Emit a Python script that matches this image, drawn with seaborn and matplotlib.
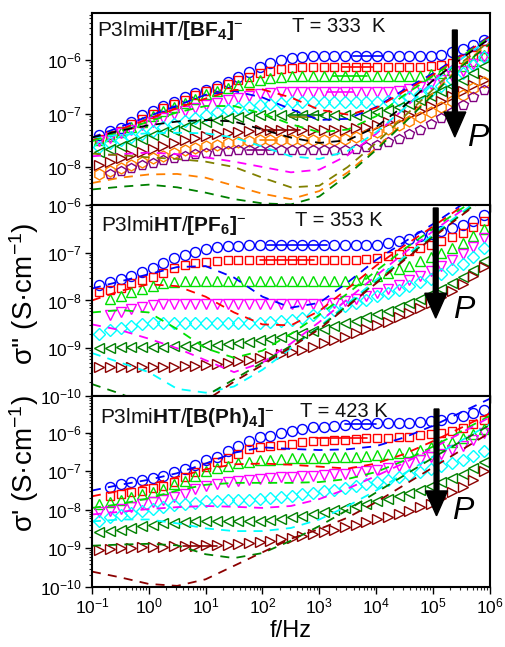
import numpy as np
import pandas as pd
import matplotlib
matplotlib.use("Agg")
import matplotlib.pyplot as plt
import seaborn as sns
from matplotlib.ticker import FixedLocator, FuncFormatter, NullFormatter, LogLocator

# ---------------- data (log10 values) ----------------
# measurement frequencies (log10 f / Hz) of the marker series
log_f = np.round(-0.87 + 0.188 * np.arange(37), 3)
# frequencies (log10) of the dashed sigma'' curves
log_f_dash = [-1, -0.5, 0, 0.5, 1, 1.5, 2, 2.5, 3, 3.5, 4, 4.5, 5, 5.5, 6]

nan = np.nan
# ---- panel 1 : P3lmiHT/[BF4]-, T = 333 K ----
bf4_circle = [-7.40,-7.33,-7.27,-7.15,-7.02,-6.95,-6.86,-6.78,-6.70,-6.62,-6.56,-6.49,-6.41,-6.31,-6.22,-6.13,-6.06,-6.00,-5.96,-5.94,
              -5.93,-5.93,-5.93,-5.93,-5.93,-5.93,-5.93,-5.93,-5.93,-5.93,-5.93,-5.92,-5.90,-5.85,-5.79,-5.72,-5.62]
bf4_square = [-7.48,-7.40,-7.32,-7.20,-7.10,-7.00,-6.90,-6.82,-6.74,-6.66,-6.58,-6.52,-6.45,-6.38,-6.31,-6.25,-6.20,-6.17,-6.15,-6.14,
              -6.13,-6.13,-6.13,-6.13,-6.13,-6.13,-6.13,-6.13,-6.13,-6.13,-6.13,-6.12,-6.10,-6.05,-5.98,-5.90,-5.80]
bf4_up = [-7.50,-7.42,-7.35,-7.25,-7.15,-7.05,-6.96,-6.88,-6.80,-6.72,-6.64,-6.58,-6.52,-6.46,-6.41,-6.37,-6.34,-6.32,
          -6.30,-6.30,-6.30,-6.30,-6.30,-6.30,-6.30,-6.30,-6.30,-6.30,-6.30,-6.30,-6.29,-6.27,-6.24,-6.19,-6.11,-6.01,-5.90]
bf4_down = [-7.52,-7.45,-7.36,-7.30,-7.22,-7.15,-7.08,-7.01,-6.95,-6.90,-6.85,-6.80,-6.75,-6.71,-6.67,-6.64,-6.62,-6.60,
            -6.59,-6.59,-6.59,-6.59,-6.59,-6.59,-6.59,-6.59,-6.59,-6.59,-6.57,-6.54,-6.50,-6.45,-6.38,-6.30,-6.20,-6.08,-5.95]
bf4_diamond = [-7.62,-7.56,-7.50,-7.44,-7.38,-7.32,-7.26,-7.20,-7.14,-7.08,-7.02,-6.98,-6.94,-6.90,-6.87,-6.84,-6.82,-6.80,
               -6.79,-6.79,-6.79,-6.79,-6.79,-6.79,-6.79,-6.79,-6.79,-6.77,-6.74,-6.70,-6.64,-6.57,-6.48,-6.37,-6.24,-6.10,-5.95]
bf4_left = [-7.72,-7.66,-7.60,-7.53,-7.47,-7.41,-7.35,-7.30,-7.25,-7.20,-7.16,-7.12,-7.09,-7.06,-7.04,-7.03,
            -7.02,-7.02,-7.02,-7.02,-7.02,-7.02,-7.02,-7.02,-7.02,-7.00,-6.97,-6.93,-6.88,-6.82,-6.75,-6.67,-6.58,-6.48,-6.37,-6.25,-6.12]
bf4_right = [-7.97,-7.90,-7.84,-7.78,-7.72,-7.66,-7.60,-7.55,-7.50,-7.46,-7.42,-7.39,-7.36,-7.34,-7.32,-7.31,
             -7.30,-7.30,-7.30,-7.30,-7.30,-7.30,-7.30,-7.30,-7.28,-7.25,-7.21,-7.16,-7.10,-7.03,-6.95,-6.86,-6.77,-6.67,-6.57,-6.47,-6.37]
bf4_hexagon = [-8.13,-8.08,-8.02,-7.96,-7.90,-7.84,-7.79,-7.74,-7.69,-7.65,-7.61,-7.58,-7.55,-7.53,-7.51,-7.50,
               -7.49,-7.49,-7.49,-7.49,-7.49,-7.49,-7.49,-7.47,-7.44,-7.40,-7.35,-7.29,-7.22,-7.14,-7.06,-6.97,-6.87,-6.76,-6.65,-6.53,-6.41]
bf4_pentagon = [nan,-8.14,-8.08,-8.02,-7.97,-7.92,-7.87,-7.83,-7.79,-7.76,-7.73,-7.71,-7.70,-7.69,
                -7.68,-7.68,-7.68,-7.68,-7.68,-7.68,-7.68,-7.68,-7.68,-7.68,-7.66,-7.63,-7.59,-7.54,-7.47,-7.39,-7.30,-7.20,-7.09,-6.97,-6.84,-6.70,-6.56]

bf4_dash_blue    = [-7.45,-7.25,-7.05,-6.85,-6.65,-6.58,-6.70,-6.92,-7.12,-7.10,-6.88,-6.55,-6.25,-5.90,-5.55]
bf4_dash_red     = [-7.50,-7.30,-7.10,-6.90,-6.72,-6.56,-6.55,-6.70,-6.93,-7.02,-6.90,-6.58,-6.28,-5.92,-5.57]
bf4_dash_lime    = [-7.52,-7.33,-7.15,-6.98,-6.86,-6.86,-7.00,-7.20,-7.35,-7.30,-7.05,-6.65,-6.30,-5.93,-5.58]
bf4_dash_magenta = [-7.80,-7.76,-7.73,-7.76,-7.82,-7.90,-8.00,-8.10,-8.05,-7.78,-7.38,-6.90,-6.40,-5.97,-5.60]
bf4_dash_cyan    = [-7.45,-7.40,-7.37,-7.36,-7.37,-7.45,-7.62,-7.80,-7.85,-7.70,-7.35,-6.90,-6.42,-5.98,-5.60]
bf4_dash_black   = [-7.45,-7.32,-7.22,-7.15,-7.12,-7.15,-7.30,-7.45,-7.55,-7.50,-7.25,-6.85,-6.38,-5.97,-5.60]
bf4_dash_olive   = [-7.75,-7.78,-7.82,-7.85,-7.90,-8.00,-8.20,-8.38,-8.35,-8.00,-7.55,-7.05,-6.55,-6.05,-5.65]
bf4_dash_orange  = [-8.30,-8.20,-8.14,-8.13,-8.20,-8.35,-8.50,-8.60,-8.45,-8.10,-7.65,-7.15,-6.62,-6.10,-5.68]
bf4_dash_dkgreen = [-8.42,-8.37,-8.33,-8.38,-8.48,-8.60,-8.68,-8.70,-8.55,-8.15,-7.68,-7.17,-6.65,-6.12,-5.70]

# short horizontal fit segments: (series, log f start, log f end, log10 level)
bf4_fits = [("blue", 3.6, 4.1, -5.93), ("red", 3.4, 3.95, -6.13), ("lime", 3.24, 3.84, -6.30),
            ("magenta", 3.13, 3.6, -6.59), ("dkgreen", 2.48, 3.06, -7.03), ("olive", 2.48, 2.9, -7.07),
            ("darkred", 2.0, 2.66, -7.30), ("orange", 1.95, 2.25, -7.49), ("purple", 1.72, 2.18, -7.68)]

# ---- panel 2 : P3lmiHT/[PF6]-, T = 353 K ----
pf6_circle = [-7.68,-7.61,-7.55,-7.48,-7.41,-7.33,-7.22,-7.12,-7.05,-6.98,-6.92,-6.89,-6.86,-6.85,
              -6.84,-6.84,-6.84,-6.84,-6.84,-6.84,-6.84,-6.84,-6.84,-6.84,-6.84,-6.84,-6.84,-6.80,-6.76,-6.71,-6.66,-6.60,-6.54,-6.48,-6.42,-6.33,-6.21]
pf6_square = [-7.83,-7.78,-7.73,-7.64,-7.57,-7.50,-7.42,-7.33,-7.26,-7.21,-7.19,-7.17,
              -7.16,-7.16,-7.16,-7.16,-7.16,-7.16,-7.16,-7.16,-7.16,-7.16,-7.16,-7.16,-7.16,-7.14,-7.11,-7.07,-7.02,-6.96,-6.90,-6.83,-6.75,-6.67,-6.58,-6.47,-6.33]
pf6_up = [nan,-7.96,-7.91,-7.82,-7.76,-7.69,-7.64,-7.61,
          -7.59,-7.59,-7.59,-7.59,-7.59,-7.59,-7.59,-7.59,-7.59,-7.59,-7.59,-7.59,-7.59,-7.59,-7.59,-7.59,
          -7.57,-7.54,-7.49,-7.42,-7.35,-7.27,-7.18,-7.09,-7.00,-6.90,-6.79,-6.66,-6.50]
pf6_down = [nan,-8.31,-8.24,-8.18,-8.13,-8.10,-8.08,
            -8.07,-8.07,-8.07,-8.07,-8.07,-8.07,-8.07,-8.07,-8.07,-8.07,-8.07,-8.07,-8.07,-8.07,-8.07,
            -8.05,-8.02,-7.97,-7.91,-7.84,-7.76,-7.67,-7.58,-7.48,-7.38,-7.27,-7.15,-7.02,-6.87,-6.70]
pf6_diamond = [-8.71,-8.62,-8.57,-8.53,-8.50,
               -8.48,-8.48,-8.48,-8.48,-8.48,-8.48,-8.48,-8.48,-8.48,-8.48,-8.48,
               -8.46,-8.43,-8.40,-8.36,-8.31,-8.25,-8.19,-8.12,-8.05,-7.98,-7.91,-7.84,-7.77,-7.70,-7.62,-7.54,-7.45,-7.35,-7.23,-7.08,-6.90]
pf6_left = [-9.00,-8.99,-8.98,-8.98,-8.97,-8.97,-8.97,-8.96,-8.96,-8.95,-8.94,-8.93,-8.91,-8.89,-8.86,-8.83,-8.80,-8.77,
            -8.73,-8.69,-8.64,-8.59,-8.54,-8.48,-8.42,-8.35,-8.28,-8.21,-8.13,-8.05,-7.96,-7.86,-7.76,-7.64,-7.51,-7.36,-7.18]
pf6_right = [-9.40,-9.40,-9.40,-9.40,-9.40,-9.39,-9.39,-9.39,-9.38,-9.37,-9.35,-9.33,-9.30,-9.27,-9.24,-9.20,-9.16,-9.12,
             -9.08,-9.03,-8.97,-8.90,-8.83,-8.76,-8.68,-8.60,-8.52,-8.44,-8.35,-8.26,-8.16,-8.05,-7.93,-7.80,-7.65,-7.48,-7.30]

pf6_dash_blue    = [-7.75,-7.60,-7.45,-7.30,-7.28,-7.52,-7.92,-8.15,-8.05,-7.62,-7.15,-6.77,-6.40,-6.00,-5.60]
pf6_dash_red     = [-8.00,-7.80,-7.66,-7.70,-7.92,-8.25,-8.50,-8.52,-8.22,-7.75,-7.27,-6.85,-6.45,-6.04,-5.64]
pf6_dash_lime    = [-8.25,-8.20,-8.25,-8.60,-9.00,-9.20,-9.05,-8.70,-8.30,-7.85,-7.38,-6.92,-6.50,-6.08,-5.67]
pf6_dash_magenta = [-8.50,-8.62,-8.80,-9.00,-9.25,-9.50,-9.30,-8.90,-8.45,-7.97,-7.48,-7.00,-6.55,-6.12,-5.70]
pf6_dash_cyan    = [-9.10,-9.30,-9.50,-9.85,-9.93,-9.80,-9.45,-9.00,-8.55,-8.06,-7.57,-7.08,-6.62,-6.16,-5.73]
pf6_dash_dkgreen = [-9.75,-9.95,-10.20,-10.30,-10.00,-9.65,-9.30,-8.95,-8.57,-8.10,-7.62,-7.13,-6.66,-6.20,-5.76]
pf6_dash_darkred = [-10.30,-10.50,-10.60,-10.50,-10.10,-9.70,-9.35,-8.98,-8.60,-8.12,-7.64,-7.15,-6.68,-6.22,-5.78]

pf6_fits = [("blue", 2.08, 3.13, -6.84), ("red", 1.95, 2.9, -7.16)]

# ---- panel 3 : P3lmiHT/[B(Ph)4]-, T = 423 K ----
bph_circle = [nan,-7.41,-7.33,-7.29,-7.23,-7.17,-7.11,-7.03,-6.94,-6.85,-6.72,-6.62,-6.48,-6.34,-6.22,-6.12,-6.08,-6.02,-5.96,
              -5.90,-5.86,-5.84,-5.82,-5.80,-5.78,-5.78,-5.76,-5.76,-5.75,-5.74,-5.72,-5.70,-5.67,-5.63,-5.58,-5.50,-5.40]
bph_square = [nan,-7.63,-7.59,-7.55,-7.50,-7.43,-7.37,-7.27,-7.16,-7.02,-6.88,-6.77,-6.66,-6.55,-6.42,-6.36,-6.34,-6.31,-6.29,
              -6.25,-6.22,-6.21,-6.20,-6.18,-6.17,-6.15,-6.14,-6.13,-6.12,-6.10,-6.07,-6.03,-6.00,-5.95,-5.88,-5.78,-5.66]
bph_up = [-7.85,-7.80,-7.74,-7.67,-7.60,-7.54,-7.46,-7.33,-7.24,-7.11,-7.00,-6.91,-6.86,-6.79,-6.75,-6.72,-6.70,-6.68,-6.66,
          -6.66,-6.65,-6.65,-6.64,-6.63,-6.62,-6.60,-6.58,-6.56,-6.53,-6.49,-6.44,-6.38,-6.32,-6.24,-6.14,-6.03,-5.90]
bph_down = [-8.06,-8.02,-7.97,-7.92,-7.85,-7.80,-7.74,-7.66,-7.59,-7.46,-7.38,-7.33,-7.29,-7.26,-7.23,-7.20,-7.18,-7.16,-7.14,
            -7.12,-7.11,-7.10,-7.08,-7.06,-7.03,-7.00,-6.96,-6.91,-6.86,-6.79,-6.72,-6.64,-6.56,-6.46,-6.35,-6.20,-6.00]
bph_diamond = [-8.28,-8.19,-8.13,-8.08,-8.02,-7.98,-7.93,-7.88,-7.84,-7.81,-7.78,-7.76,-7.75,-7.74,-7.74,-7.72,-7.70,-7.67,-7.63,
               -7.59,-7.56,-7.52,-7.48,-7.44,-7.39,-7.34,-7.28,-7.22,-7.16,-7.09,-7.02,-6.95,-6.87,-6.79,-6.70,-6.60,-6.48]
bph_left = [-8.58,-8.55,-8.52,-8.47,-8.41,-8.38,-8.35,-8.33,-8.31,-8.30,-8.28,-8.28,-8.28,-8.28,-8.28,-8.28,
            -8.26,-8.23,-8.19,-8.15,-8.11,-8.06,-8.01,-7.95,-7.90,-7.84,-7.77,-7.71,-7.64,-7.56,-7.48,-7.39,-7.29,-7.18,-7.06,-6.92,-6.75]
bph_right = [-9.04,-9.02,-9.00,-8.98,-8.97,-8.96,-8.95,-8.94,-8.93,-8.93,-8.92,-8.91,-8.90,-8.88,-8.86,-8.83,-8.80,-8.76,-8.72,
             -8.67,-8.62,-8.57,-8.51,-8.45,-8.39,-8.32,-8.25,-8.18,-8.10,-8.02,-7.93,-7.84,-7.70,-7.55,-7.40,-7.22,-7.00]

bph_dash_blue    = [-7.50,-7.35,-7.22,-7.05,-6.80,-6.52,-6.38,-6.42,-6.45,-6.43,-6.35,-6.12,-5.82,-5.47,-5.12]
bph_dash_red     = [-7.65,-7.50,-7.35,-7.15,-6.95,-6.82,-6.80,-6.83,-6.88,-6.93,-6.80,-6.55,-6.22,-5.87,-5.50]
bph_dash_lime    = [-7.95,-7.85,-7.70,-7.50,-7.35,-7.30,-7.30,-7.30,-7.28,-7.20,-7.02,-6.72,-6.36,-5.96,-5.56]
bph_dash_magenta = [-8.12,-8.05,-7.98,-7.93,-7.90,-7.92,-7.95,-7.90,-7.72,-7.45,-7.12,-6.78,-6.40,-6.00,-5.60]
bph_dash_cyan    = [-8.30,-8.25,-8.25,-8.35,-8.48,-8.55,-8.55,-8.47,-8.25,-7.90,-7.50,-7.05,-6.62,-6.20,-5.78]
bph_dash_dkgreen = [-8.93,-8.90,-8.88,-8.92,-9.15,-9.25,-9.12,-8.80,-8.42,-8.00,-7.55,-7.10,-6.65,-6.22,-5.80]
bph_dash_darkred = [-9.60,-9.75,-9.92,-9.97,-9.80,-9.45,-9.10,-8.75,-8.50,-8.20,-7.80,-7.35,-6.90,-6.45,-6.00]

bph_fits = [("blue", 3.45, 4.0, -5.78), ("red", 2.95, 3.84, -6.14), ("darkred", 0.6, 1.2, -8.93)]

panel_titles = [r"P3lmi$\mathbf{HT}$/$\mathbf{[BF_4]}^{-}$",
                r"P3lmi$\mathbf{HT}$/$\mathbf{[PF_6]}^{-}$",
                r"P3lmi$\mathbf{HT}$/$\mathbf{[B(Ph)_4]}^{-}$"]
panel_temps = ["T = 333  K", "T = 353 K", "T = 423 K"]
x_ticks = [-1, 0, 1, 2, 3, 4, 5, 6]

# ---------------- style ----------------
COLORS = {"blue": "#0000FF", "red": "#FF0000", "lime": "#00E000", "magenta": "#FF00FF",
          "cyan": "#00FFFF", "dkgreen": "#008000", "darkred": "#8B0000", "orange": "#FF8000",
          "purple": "#800080", "black": "#000000", "olive": "#808000"}
MARKERS = {"blue": ("o", 7.2), "red": ("s", 6.2), "lime": ("^", 7.8), "magenta": ("v", 7.8),
           "cyan": ("D", 6.0), "dkgreen": ("<", 7.8), "darkred": (">", 7.8), "orange": ("h", 7.8),
           "purple": ("p", 7.8)}

sns.set_theme(style="white")
plt.rcParams["font.family"] = ["Liberation Sans", "DejaVu Sans"]
plt.rcParams["mathtext.fontset"] = "custom"
plt.rcParams["mathtext.rm"] = "Liberation Sans"
plt.rcParams["mathtext.it"] = "Liberation Sans:italic"
plt.rcParams["mathtext.bf"] = "Liberation Sans:bold"
plt.rcParams["axes.unicode_minus"] = False

fig = plt.figure(figsize=(5.05, 6.47), dpi=100)
ax_left, ax_w = 0.182, 0.788
axes = [fig.add_axes([ax_left, 0.6832, ax_w, 0.2968]),
        fig.add_axes([ax_left, 0.3879, ax_w, 0.2953]),
        fig.add_axes([ax_left, 0.0927, ax_w, 0.2952])]

panels = [
    dict(markers={"blue": bf4_circle, "red": bf4_square, "lime": bf4_up, "magenta": bf4_down,
                  "cyan": bf4_diamond, "dkgreen": bf4_left, "darkred": bf4_right,
                  "orange": bf4_hexagon, "purple": bf4_pentagon},
         dashes={"blue": bf4_dash_blue, "red": bf4_dash_red, "lime": bf4_dash_lime,
                 "magenta": bf4_dash_magenta, "cyan": bf4_dash_cyan, "black": bf4_dash_black,
                 "olive": bf4_dash_olive, "orange": bf4_dash_orange, "dkgreen": bf4_dash_dkgreen},
         fits=bf4_fits, ylim=(-8.71, -5.12), yticks=[-8, -7, -6],
         title_pos=(0.013, 0.882), temp_pos=(0.503, 0.90),
         arrow=(0.912, 0.911, 0.354), p_pos=(0.942, 0.307)),
    dict(markers={"blue": pf6_circle, "red": pf6_square, "lime": pf6_up, "magenta": pf6_down,
                  "cyan": pf6_diamond, "dkgreen": pf6_left, "darkred": pf6_right},
         dashes={"blue": pf6_dash_blue, "red": pf6_dash_red, "lime": pf6_dash_lime,
                 "magenta": pf6_dash_magenta, "cyan": pf6_dash_cyan,
                 "dkgreen": pf6_dash_dkgreen, "darkred": pf6_dash_darkred},
         fits=pf6_fits, ylim=(-10, -6), yticks=[-10, -9, -8, -7, -6],
         title_pos=(0.024, 0.864), temp_pos=(0.51, 0.89),
         arrow=(0.864, 0.984, 0.408), p_pos=(0.907, 0.408)),
    dict(markers={"blue": bph_circle, "red": bph_square, "lime": bph_up, "magenta": bph_down,
                  "cyan": bph_diamond, "dkgreen": bph_left, "darkred": bph_right},
         dashes={"blue": bph_dash_blue, "red": bph_dash_red, "lime": bph_dash_lime,
                 "magenta": bph_dash_magenta, "cyan": bph_dash_cyan,
                 "dkgreen": bph_dash_dkgreen, "darkred": bph_dash_darkred},
         fits=bph_fits, ylim=(-10, -5.05), yticks=[-10, -9, -8, -7, -6],
         title_pos=(0.02, 0.859), temp_pos=(0.523, 0.89),
         arrow=(0.866, 0.932, 0.373), p_pos=(0.905, 0.356)),
]

pow_fmt = FuncFormatter(lambda v, p: r"$10^{%d}$" % int(round(np.log10(v))))

for i, (ax, pan) in enumerate(zip(axes, panels)):
    # markers (sigma')
    for name, vals in pan["markers"].items():
        df = pd.DataFrame({"f": 10 ** log_f, "s": 10 ** np.array(vals, dtype=float)}).dropna()
        m, ms = MARKERS[name]
        sns.lineplot(data=df, x="f", y="s", ax=ax, estimator=None, sort=False, legend=False,
                     linestyle="none", marker=m, markersize=ms, markerfacecolor="none",
                     markeredgecolor=COLORS[name], markeredgewidth=1.0, color=COLORS[name])
    # fit segments
    for name, a, b, lev in pan["fits"]:
        df = pd.DataFrame({"f": [10 ** a, 10 ** b], "s": [10 ** lev, 10 ** lev]})
        sns.lineplot(data=df, x="f", y="s", ax=ax, estimator=None, sort=False, legend=False,
                     color=COLORS[name], linewidth=1.2)
    # dashed sigma'' curves
    for name, vals in pan["dashes"].items():
        df = pd.DataFrame({"f": 10.0 ** np.array(log_f_dash), "s": 10 ** np.array(vals)})
        sns.lineplot(data=df, x="f", y="s", ax=ax, estimator=None, sort=False, legend=False,
                     color=COLORS[name], linewidth=1.3, linestyle=(0, (5, 4)))

    ax.set_xscale("log")
    ax.set_yscale("log")
    ax.set_xlim(1e-1, 1e6)
    ax.set_ylim(10 ** pan["ylim"][0], 10 ** pan["ylim"][1])
    ax.set_xlabel("")
    ax.set_ylabel("")
    ax.xaxis.set_major_locator(FixedLocator([10.0 ** e for e in x_ticks]))
    ax.xaxis.set_minor_locator(LogLocator(base=10, subs=np.arange(2, 10), numticks=30))
    ax.yaxis.set_major_locator(FixedLocator([10.0 ** e for e in pan["yticks"]]))
    ax.yaxis.set_minor_locator(LogLocator(base=10, subs=np.arange(2, 10), numticks=30))
    ax.yaxis.set_major_formatter(pow_fmt)
    ax.yaxis.set_minor_formatter(NullFormatter())
    ax.xaxis.set_minor_formatter(NullFormatter())
    if i == 2:
        ax.xaxis.set_major_formatter(pow_fmt)
    else:
        ax.xaxis.set_major_formatter(NullFormatter())
    ax.tick_params(axis="both", which="major", direction="out", length=5, width=1.0,
                   labelsize=12.5, bottom=True, left=True, colors="black", pad=2)
    ax.tick_params(axis="both", which="minor", direction="out", length=2.5, width=0.8,
                   bottom=True, left=True)
    for sp in ax.spines.values():
        sp.set_visible(True)
        sp.set_color("black")
        sp.set_linewidth(1.5)
    ax.set_facecolor("white")

    ax.text(*pan["title_pos"], panel_titles[i], transform=ax.transAxes, fontsize=15,
            ha="left", va="baseline", color="#111111")
    ax.text(*pan["temp_pos"], panel_temps[i], transform=ax.transAxes, fontsize=14.5,
            ha="left", va="baseline", color="#111111")
    xa, ytop, ytip = pan["arrow"]
    ax.arrow(xa, ytop, 0, ytip - ytop, transform=ax.transAxes, width=0.012,
             head_width=0.055, head_length=0.13, length_includes_head=True,
             color="black", zorder=10)
    ax.text(*pan["p_pos"], "P", transform=ax.transAxes, fontsize=23, style="italic",
            ha="left", va="baseline", color="black")

fig.text(0.047, 0.417, "σ' (S·cm$^{-1}$)    σ'' (S·cm$^{-1}$)", rotation=90,
         ha="center", va="center", fontsize=20, color="black")
fig.text(0.575, 0.024, "f/Hz", ha="center", va="center", fontsize=17, color="black")

fig.savefig("out.png", dpi=100, facecolor="white")
